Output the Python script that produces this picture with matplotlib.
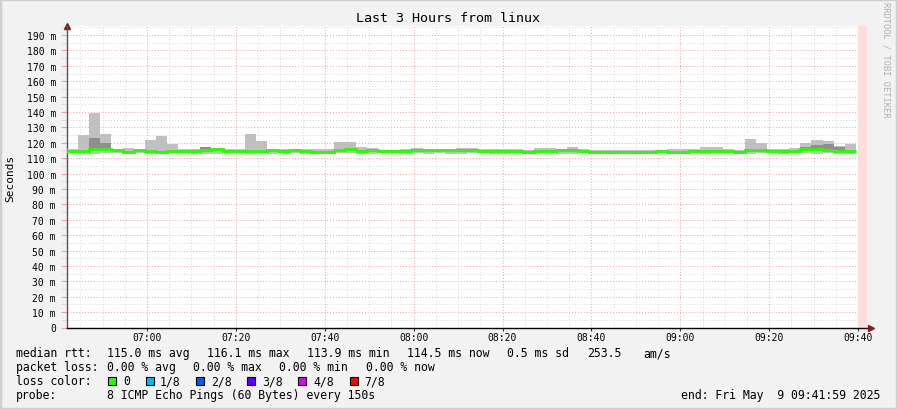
import numpy as np
import matplotlib
matplotlib.use("Agg")
import matplotlib.pyplot as plt
from matplotlib.patches import Rectangle
from matplotlib.ticker import FixedLocator, FuncFormatter

plt.rcParams['font.family'] = 'DejaVu Sans Mono'

# 150 s steps starting 06:42, values in ms
median = [114.9, 114.9, 116.1, 116.0, 115.1, 114.1, 115.3, 114.7, 114.3, 114.7,
          114.9, 114.9, 115.1, 115.7, 114.9, 114.9, 114.5, 114.9, 115.1, 114.7,
          115.1, 114.7, 114.1, 114.3, 115.1, 115.9, 114.7, 115.1, 114.7, 114.7,
          114.7, 115.1, 115.1, 115.1, 115.1, 115.1, 115.1, 114.9, 114.5, 114.5,
          114.7, 113.9, 114.7, 114.7, 115.3, 115.3, 114.7, 114.1, 114.1, 113.9,
          113.9, 114.1, 114.3, 114.7, 114.3, 114.3, 114.9, 114.9, 114.9, 114.7,
          114.3, 115.1, 115.1, 114.9, 114.5, 114.7, 115.7, 115.7, 115.5, 114.7,
          114.5]
ping_max = [116.0, 125.1, 139.4, 125.7, 116.2, 116.9, 116.2, 122.0, 124.6, 119.4,
            115.7, 116.2, 117.5, 116.6, 116.2, 116.2, 125.7, 121.2, 116.2, 116.2,
            116.2, 115.7, 115.9, 115.9, 120.5, 120.5, 117.5, 116.6, 115.5, 115.3,
            116.2, 116.9, 115.9, 115.9, 116.2, 116.9, 116.9, 116.2, 116.2, 115.7,
            115.7, 115.3, 116.9, 116.4, 115.9, 117.2, 116.2, 115.5, 115.5, 115.5,
            115.3, 115.3, 115.3, 115.3, 115.7, 115.7, 115.7, 117.0, 117.2, 116.2,
            115.5, 122.5, 119.6, 115.7, 116.2, 116.9, 119.9, 122.0, 121.4, 117.7,
            119.4]
ping_hi = [115.3, 115.5, 123.3, 119.9, 115.6, 114.8, 115.8, 115.2, 114.9, 115.3,
           115.4, 115.5, 117.2, 116.1, 115.4, 115.4, 115.1, 115.5, 115.6, 115.2,
           115.6, 115.2, 114.7, 114.9, 115.7, 116.6, 115.3, 115.7, 115.2, 115.1,
           115.3, 115.7, 115.6, 115.6, 115.6, 115.7, 115.7, 115.4, 115.0, 115.0,
           115.2, 114.5, 115.4, 115.3, 115.8, 116.0, 115.3, 114.6, 114.6, 114.4,
           114.4, 114.6, 114.8, 115.2, 114.8, 114.8, 115.4, 115.6, 115.6, 115.2,
           114.8, 115.7, 115.6, 115.4, 115.0, 115.3, 117.5, 118.5, 119.5, 117.5,
           115.2]
ping_lo = [114.3, 114.2, 115.0, 115.2, 114.5, 113.5, 114.6, 114.0, 113.7, 114.1,
           114.3, 114.3, 114.5, 115.0, 114.3, 114.3, 113.9, 114.3, 114.5, 114.1,
           114.5, 114.1, 113.5, 113.7, 114.5, 115.2, 114.1, 114.5, 114.1, 114.1,
           114.1, 114.5, 114.5, 114.5, 114.5, 114.5, 114.5, 114.3, 113.9, 113.9,
           114.1, 113.3, 114.1, 114.1, 114.7, 114.7, 114.1, 113.5, 113.5, 113.3,
           113.3, 113.5, 113.7, 114.1, 113.7, 113.7, 114.3, 114.3, 114.3, 114.1,
           113.7, 114.5, 114.5, 114.3, 113.9, 114.1, 114.8, 114.9, 114.8, 114.1,
           113.9]
ping_min = [113.3, 112.8, 112.8, 113.3, 113.1, 113.0, 113.3, 112.8, 113.0, 113.1,
            113.1, 113.3, 112.8, 112.6, 113.2, 113.2, 112.9, 113.1, 113.0, 113.1,
            113.2, 113.0, 112.8, 112.9, 113.2, 113.5, 112.6, 113.0, 113.1, 113.2,
            113.0, 113.1, 112.8, 113.2, 112.7, 113.0, 113.2, 113.1, 112.9, 113.0,
            113.2, 113.0, 113.1, 113.3, 113.0, 112.8, 113.1, 113.0, 112.9, 113.0,
            112.7, 113.0, 113.2, 113.1, 113.0, 113.0, 113.2, 112.9, 113.2, 113.1,
            113.0, 113.0, 113.2, 113.1, 113.0, 113.3, 113.3, 113.0, 113.2, 112.9,
            113.0]

step_min = 2.5
tick_minutes = [18, 38, 58, 78, 98, 118, 138, 158, 178]
tick_labels = ['07:00', '07:20', '07:40', '08:00', '08:20', '08:40', '09:00', '09:20', '09:40']

loss_labels = ['0', '1/8', '2/8', '3/8', '4/8', '7/8']
loss_colors = ['#26ff00', '#00b8ff', '#0059ff', '#5e00ff', '#dd00ff', '#ff0000']
loss_x = [108, 146, 196, 247, 298, 350]
loss_text_x = [123, 160, 211, 262, 313, 364]

W, H = 897, 410
fig = plt.figure(figsize=(W / 100, H / 100), dpi=100)
fig.patch.set_facecolor('#f2f2f2')
fig.patches.append(Rectangle((0, 0), 1, 1, transform=fig.transFigure, fill=False,
                             edgecolor='#cfcfcf', lw=2.5))

x0, x1, y0, y1 = 67, 867, 328.5, 26.5
ax = fig.add_axes([x0 / W, 1 - y0 / H, (x1 - x0) / W, (y0 - y1) / H])
ax.set_facecolor('white')
ax.set_xlim(0, 180)
ax.set_ylim(0, 196.2)

edges = np.arange(len(median) + 1) * step_min
ax.axvspan(178, 180, color='#ffdcdc', lw=0, zorder=1)
ax.stairs(ping_max, edges, baseline=ping_min, fill=True, color='#c0c0c0', zorder=3)
ax.stairs(ping_hi, edges, baseline=ping_lo, fill=True, color='#8e8e8e', zorder=4)
ax.stairs(median, edges, baseline=None, color='#26ff00', lw=2.1, zorder=5)

# grid
ax.xaxis.set_major_locator(FixedLocator(tick_minutes))
ax.xaxis.set_minor_locator(FixedLocator(np.arange(3, 180, 5)))
ax.yaxis.set_major_locator(FixedLocator(np.arange(0, 191, 10)))
ax.yaxis.set_minor_locator(FixedLocator(np.arange(5, 196, 10)))
ax.grid(which='minor', color='#d8d8d8', ls=(0, (1, 2)), lw=0.7, zorder=2)
ax.grid(which='major', color='#f2a0a0', ls=(0, (1, 2)), lw=0.7, zorder=2)
ax.set_axisbelow(True)
ax.set_xticklabels(tick_labels)
ax.yaxis.set_major_formatter(FuncFormatter(lambda v, p: '0' if v == 0 else f'{int(v)} m'))
ax.tick_params(axis='both', which='both', labelsize=7, colors='#000000', length=0, pad=5)
ax.tick_params(axis='y', which='major', length=4, color='#f2a0a0', pad=4)
ax.tick_params(axis='y', which='minor', length=4, color='#d8d8d8')
ax.tick_params(axis='x', which='major', length=2, color='#333333', pad=1.5)

for s in ['top', 'right']:
    ax.spines[s].set_visible(False)
ax.spines['left'].set_color('#555555')
ax.spines['bottom'].set_color('#000000')
ax.spines['left'].set_linewidth(1)
ax.spines['bottom'].set_linewidth(1)

# axis arrows
ax.plot(0, 1.0, marker='^', ms=5, color='#8b1a1a', transform=ax.transAxes, clip_on=False)
ax.plot(1.005, 0, marker='>', ms=5, color='#8b1a1a', transform=ax.transAxes, clip_on=False)

fig.text(448 / W, 1 - 19 / H, 'Last 3 Hours from linux', ha='center', va='center', fontsize=9.6)
fig.text(10 / W, 1 - 178 / H, 'Seconds', rotation=90, ha='center', va='center', fontsize=8)
fig.text(886 / W, 1 - 60 / H, 'RRDTOOL / TOBI OETIKER', rotation=270, ha='center', va='center',
         fontsize=6.2, color='#b0b0b0')

def ftext(x, y, s, **kw):
    fig.text(x / W, 1 - y / H, s, va='center', fontsize=8.3, **kw)

ftext(16, 354, 'median rtt:')
for x, s in zip([107, 207, 307, 407, 507, 587, 643],
                ['115.0 ms avg', '116.1 ms max', '113.9 ms min', '114.5 ms now',
                 '0.5 ms sd', '253.5', 'am/s']):
    ftext(x, 354, s)
ftext(16, 368, 'packet loss:')
for x, s in zip([107, 193, 279, 366], ['0.00 % avg', '0.00 % max', '0.00 % min', '0.00 % now']):
    ftext(x, 368, s)
ftext(16, 382, 'loss color:')
for x, tx, c, s in zip(loss_x, loss_text_x, loss_colors, loss_labels):
    fig.patches.append(Rectangle((x / W, 1 - 386 / H), 8 / W, 8 / H, transform=fig.transFigure,
                                 facecolor=c, edgecolor='#000000', lw=0.8))
    ftext(tx, 382, s)
ftext(16, 396, 'probe:')
ftext(107, 396, '8 ICMP Echo Pings (60 Bytes) every 150s')
ftext(880, 396, 'end: Fri May  9 09:41:59 2025', ha='right')

fig.savefig('out.png', dpi=100, facecolor=fig.get_facecolor())
